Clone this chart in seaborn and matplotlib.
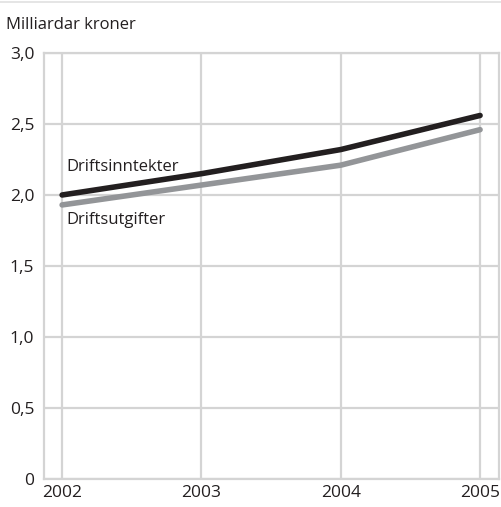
import matplotlib
matplotlib.use("Agg")
import matplotlib.pyplot as plt
import seaborn as sns
import pandas as pd
from matplotlib.lines import Line2D

years = [2002, 2003, 2004, 2005]
driftsinntekter = [2.00, 2.15, 2.32, 2.56]
driftsutgifter = [1.93, 2.07, 2.21, 2.46]
yticks = [0, 0.5, 1.0, 1.5, 2.0, 2.5, 3.0]
ytick_labels = ["0", "0,5", "1,0", "1,5", "2,0", "2,5", "3,0"]

sns.set_theme(style="white")
plt.rcParams['font.family'] = ['Open Sans', 'DejaVu Sans']

df = pd.DataFrame({
    "år": years * 2,
    "verdi": driftsinntekter + driftsutgifter,
    "serie": ["Driftsinntekter"] * 4 + ["Driftsutgifter"] * 4,
})

fig = plt.figure(figsize=(5.01, 5.07), dpi=100)
ax = fig.add_axes([0.0878, 0.0552, 0.908, 0.8403])

grid_c = "#d4d4d4"
for y in yticks:
    ax.axhline(y, color=grid_c, lw=1.6, zorder=0)
for x in years:
    ax.axvline(x, color=grid_c, lw=1.6, zorder=0)

sns.lineplot(data=df, x="år", y="verdi", hue="serie",
             palette={"Driftsinntekter": "#231f20", "Driftsutgifter": "#939598"},
             linewidth=4, legend=False, ax=ax, zorder=3)

fs = 12
ax.set_xlim(2001.87, 2005.135)
ax.set_ylim(0, 3.0)
ax.set_xticks(years)
ax.set_xticklabels([str(y) for y in years])
ax.set_yticks(yticks)
ax.set_yticklabels(ytick_labels)
ax.set_xlabel("")
ax.set_ylabel("")
for s in ax.spines.values():
    s.set_color(grid_c)
    s.set_linewidth(1.6)
ax.tick_params(axis="both", length=0, labelsize=12.5, colors="#231f20")
ax.tick_params(axis="x", pad=4)
ax.tick_params(axis="y", pad=7)

ax.text(2002.03, 2.14, "Driftsinntekter", fontsize=fs, color="#231f20", ha="left", va="bottom")
ax.text(2002.03, 1.88, "Driftsutgifter", fontsize=fs, color="#231f20", ha="left", va="top")

fig.text(0.012, 0.935, "Milliardar kroner", fontsize=fs, color="#231f20", ha="left", va="bottom")
fig.add_artist(Line2D([0, 1], [0.996, 0.996], color="#e0e0e0", lw=1.2, transform=fig.transFigure))

fig.savefig("out.png", dpi=100)
